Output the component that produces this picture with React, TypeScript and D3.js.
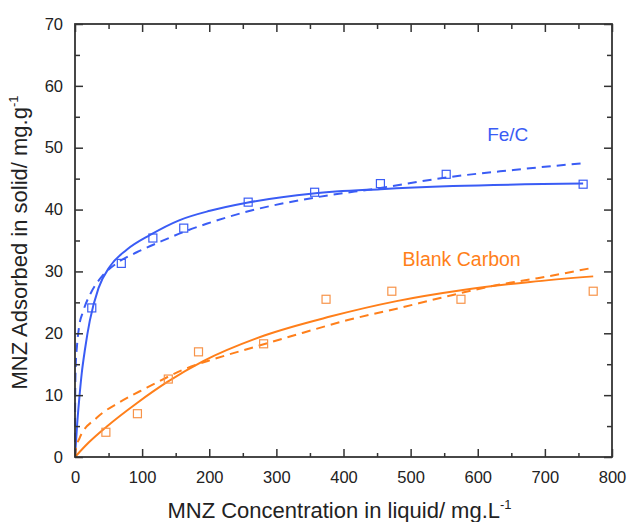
import React, { useRef, useEffect } from "react"
import * as d3 from "d3"

// measured points (Ce, qe)
const feC: [number, number][] = [
  [25, 24.1], [69, 31.3], [116, 35.4], [162, 37], [258, 41.2],
  [357, 42.8], [455, 44.2], [553, 45.7], [757, 44.1],
]
const blank: [number, number][] = [
  [46, 4.0], [93, 7.0], [139, 12.6], [184, 17], [281, 18.3],
  [374, 25.5], [472, 26.8], [575, 25.5], [772, 26.8],
]

// fitted curves (solid = Langmuir, dashed = Freundlich)
const feCSolid: [number, number][] = [
  [0, 0], [3, 5], [6, 9], [10, 13.5], [15, 17.5], [22, 22], [35, 27.3],
  [52, 30.8], [77, 33.5], [112, 35.9], [156, 38.3], [201, 39.8], [256, 41.1],
  [355, 42.6], [455, 43.3], [563, 43.8], [757, 44.2],
]
const feCDashed: [number, number][] = [
  [0, 0], [0.3, 10], [1, 14.5], [3, 18], [6, 21], [12, 23.5], [24, 26.6],
  [41, 29.3], [62, 31.3], [92, 33.1], [127, 34.8], [167, 36.6], [196, 37.7],
  [261, 39.8], [355, 41.9], [455, 43.5], [554, 45.2], [653, 46.4], [757, 47.5],
]
const blankSolid: [number, number][] = [
  [0, 0], [20, 2.3], [47, 4.9], [92, 8.7], [137, 12.1], [191, 15.5],
  [281, 19.6], [380, 22.7], [479, 25.2], [578, 27], [678, 28.3], [772, 29.2],
]
const blankDashed: [number, number][] = [
  [0, 0], [1, 1.1], [7, 3.1], [32, 6.3], [67, 8.9], [107, 11.2], [161, 14.1],
  [206, 15.8], [271, 17.9], [340, 20.1], [405, 22.1], [484, 24.1], [544, 25.7],
  [629, 27.8], [689, 28.9], [772, 30.6],
]

const xTicks = [0, 100, 200, 300, 400, 500, 600, 700, 800]
const yTicks = [0, 10, 20, 30, 40, 50, 60, 70]

const BLUE = "#3a5cf5"
const ORANGE = "#ff7f1a"
const FONT = "'Liberation Sans', Arial, sans-serif"

export default function App() {
  const width = 630
  const height = 522
  const margin = { top: 24, right: 18, bottom: 65, left: 75 }
  const iw = width - margin.left - margin.right
  const ih = height - margin.top - margin.bottom

  const gRef = useRef<SVGGElement>(null)

  const x = d3.scaleLinear().domain([0, 800]).range([0, iw])
  const y = d3.scaleLinear().domain([0, 70]).range([ih, 0])

  useEffect(() => {
    const g = d3.select(gRef.current)
    g.selectAll("*").remove()

    const xMinor = d3.range(50, 800, 100)
    const yMinor = d3.range(5, 70, 10)

    const styleAxis = (sel: any) => {
      sel.select(".domain").remove()
      sel.selectAll("line").attr("stroke", "#333").attr("stroke-width", 1.5)
      sel.selectAll("text")
        .attr("font-family", FONT)
        .attr("font-size", 16.5)
        .attr("fill", "#222")
    }

    // bottom
    g.append("g").attr("transform", `translate(0,${ih})`)
      .call(d3.axisBottom(x).tickValues(xTicks).tickSizeInner(-8).tickSizeOuter(0).tickPadding(14).tickFormat(d3.format("d")))
      .call(styleAxis)
    g.append("g").attr("transform", `translate(0,${ih})`)
      .call(d3.axisBottom(x).tickValues(xMinor).tickSizeInner(-4).tickSizeOuter(0).tickFormat(() => ""))
      .call(styleAxis)
    // top
    g.append("g")
      .call(d3.axisTop(x).tickValues(xTicks).tickSizeInner(-8).tickSizeOuter(0).tickFormat(() => ""))
      .call(styleAxis)
    g.append("g")
      .call(d3.axisTop(x).tickValues(xMinor).tickSizeInner(-5).tickSizeOuter(0).tickFormat(() => ""))
      .call(styleAxis)
    // left
    g.append("g")
      .call(d3.axisLeft(y).tickValues(yTicks).tickSizeInner(-8).tickSizeOuter(0).tickPadding(12).tickFormat(d3.format("d")))
      .call(styleAxis)
    g.append("g")
      .call(d3.axisLeft(y).tickValues(yMinor).tickSizeInner(-5).tickSizeOuter(0).tickFormat(() => ""))
      .call(styleAxis)
    // right
    g.append("g").attr("transform", `translate(${iw},0)`)
      .call(d3.axisRight(y).tickValues(yTicks).tickSizeInner(-8).tickSizeOuter(0).tickFormat(() => ""))
      .call(styleAxis)
    g.append("g").attr("transform", `translate(${iw},0)`)
      .call(d3.axisRight(y).tickValues(yMinor).tickSizeInner(-5).tickSizeOuter(0).tickFormat(() => ""))
      .call(styleAxis)
  }, [])

  const line = d3.line<[number, number]>()
    .x(d => x(d[0]))
    .y(d => y(d[1]))
    .curve(d3.curveMonotoneX)

  const sq = 8

  return (
    <svg width={width} height={height} style={{ position: "absolute", left: 0, top: 0 }}>
      <rect width={width} height={height} fill="#fff" />
      <g transform={`translate(${margin.left},${margin.top})`}>
        <path d={line(feCSolid) || ""} fill="none" stroke={BLUE} strokeWidth={2} />
        <path d={line(feCDashed) || ""} fill="none" stroke={BLUE} strokeWidth={2} strokeDasharray="9,6" />
        <path d={line(blankSolid) || ""} fill="none" stroke={ORANGE} strokeWidth={2} />
        <path d={line(blankDashed) || ""} fill="none" stroke={ORANGE} strokeWidth={2} strokeDasharray="9,6" />

        {feC.map((d, i) => (
          <rect key={"f" + i} x={x(d[0]) - sq / 2} y={y(d[1]) - sq / 2} width={sq} height={sq}
            fill="none" stroke={BLUE} strokeWidth={1.2} />
        ))}
        {blank.map((d, i) => (
          <rect key={"b" + i} x={x(d[0]) - sq / 2} y={y(d[1]) - sq / 2} width={sq} height={sq}
            fill="none" stroke="#f7944a" strokeWidth={1.2} />
        ))}

        <g ref={gRef} />
        <rect x={0} y={0} width={iw} height={ih} fill="none" stroke="#333" strokeWidth={1.8} />

        <text x={x(614)} y={y(51.1)} fontFamily={FONT} fontSize={19} fill={BLUE}>Fe/C</text>
        <text x={x(488)} y={y(30.8)} fontFamily={FONT} fontSize={19.5} fill={ORANGE}>Blank Carbon</text>

        <text x={iw / 2 - 4} y={ih + 61} textAnchor="middle" fontFamily={FONT} fontSize={22} fill="#222">
          MNZ Concentration in liquid/ mg.L<tspan dy={-9} fontSize={13}>-1</tspan>
        </text>
        <text transform={`translate(${-48},${ih / 2 + 2}) rotate(-90)`} textAnchor="middle"
          fontFamily={FONT} fontSize={22} fill="#222">
          MNZ Adsorbed in solid/ mg.g<tspan dy={-9} fontSize={13}>-1</tspan>
        </text>
      </g>
    </svg>
  )
}
